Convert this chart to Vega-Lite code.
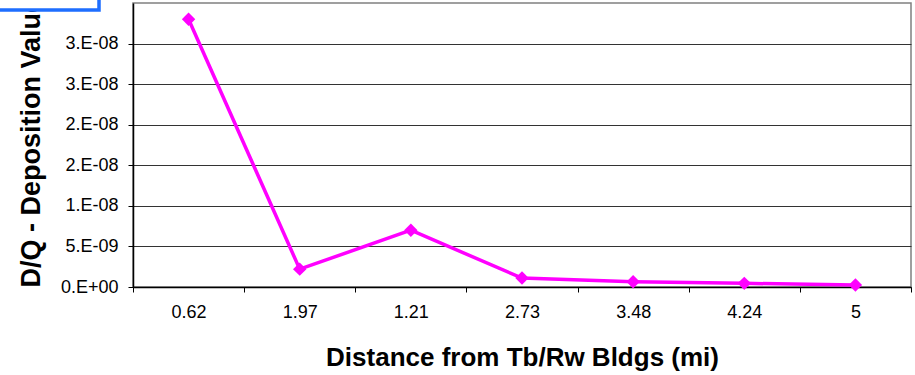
{
  "$schema": "https://vega.github.io/schema/vega-lite/v6.json",
  "width": 778,
  "height": 284,
  "autosize": {"type": "none"},
  "padding": {"left": 133, "top": 3, "right": 4, "bottom": 88},
  "background": "white",
  "config": {
    "font": "Liberation Sans",
    "view": {"stroke": "#808080", "strokeWidth": 1.5},
    "legend": {"strokeWidth": 3.5}
  },
  "data": {
    "values": [
      {"series": "D/Q", "distance": "0.62", "dq": 3.30e-8},
      {"series": "D/Q", "distance": "1.97", "dq": 2.2e-9},
      {"series": "D/Q", "distance": "1.21", "dq": 7.0e-9},
      {"series": "D/Q", "distance": "2.73", "dq": 1.1e-9},
      {"series": "D/Q", "distance": "3.48", "dq": 6.5e-10},
      {"series": "D/Q", "distance": "4.24", "dq": 4.5e-10},
      {"series": "D/Q", "distance": "5", "dq": 2.5e-10}
    ]
  },
  "encoding": {
    "x": {
      "field": "distance",
      "type": "ordinal",
      "sort": null,
      "scale": {"type": "band", "paddingInner": 0, "paddingOuter": 0},
      "axis": {
        "title": "Distance from Tb/Rw Bldgs (mi)",
        "labelAngle": 0,
        "tickBand": "extent",
        "tickSize": 5,
        "tickColor": "#000",
        "domainColor": "#000",
        "domainWidth": 1.5,
        "labelFontSize": 18,
        "labelColor": "#000",
        "labelPadding": 11,
        "titleFontSize": 26,
        "titleFontWeight": "bold",
        "titleColor": "#000",
        "titlePadding": 23,
        "grid": false
      }
    },
    "y": {
      "field": "dq",
      "type": "quantitative",
      "scale": {"domain": [0, 3.5e-8], "nice": false, "zero": true},
      "axis": {
        "title": "D/Q - Deposition Value",
        "titleAnchor": "start",
        "values": [0, 5e-9, 1e-8, 1.5e-8, 2e-8, 2.5e-8, 3e-8],
        "labelExpr": "datum.value == 0 ? '0.E+00' : round(round(datum.value / pow(10, floor(log(datum.value) / LN10 + 1e-9)) * 1000) / 1000) + '.E-' + (-floor(log(datum.value) / LN10 + 1e-9) < 10 ? '0' : '') + (-floor(log(datum.value) / LN10 + 1e-9))",
        "tickSize": 5,
        "tickColor": "#000",
        "domainColor": "#000",
        "domainWidth": 1.5,
        "labelFontSize": 18,
        "labelColor": "#000",
        "labelPadding": 10,
        "titleFontSize": 27,
        "titleFontWeight": "bold",
        "titleColor": "#000",
        "titlePadding": 15,
        "grid": true,
        "gridColor": "#333",
        "gridWidth": 1,
        "zindex": 0
      }
    },
    "color": {
      "field": "series",
      "type": "nominal",
      "scale": {"range": ["#FF00FF"]},
      "legend": {
        "title": null,
        "orient": "none",
        "legendX": -150,
        "legendY": -107,
        "padding": 50,
        "fillColor": "white",
        "strokeColor": "#1E6EFF",
        "labelExpr": "''",
        "symbolType": "diamond",
        "zindex": 5
      }
    }
  },
  "layer": [
    {"mark": {"type": "line", "strokeWidth": 3.5}},
    {"mark": {"type": "point", "shape": "diamond", "filled": true, "opacity": 1, "size": 180}}
  ]
}
